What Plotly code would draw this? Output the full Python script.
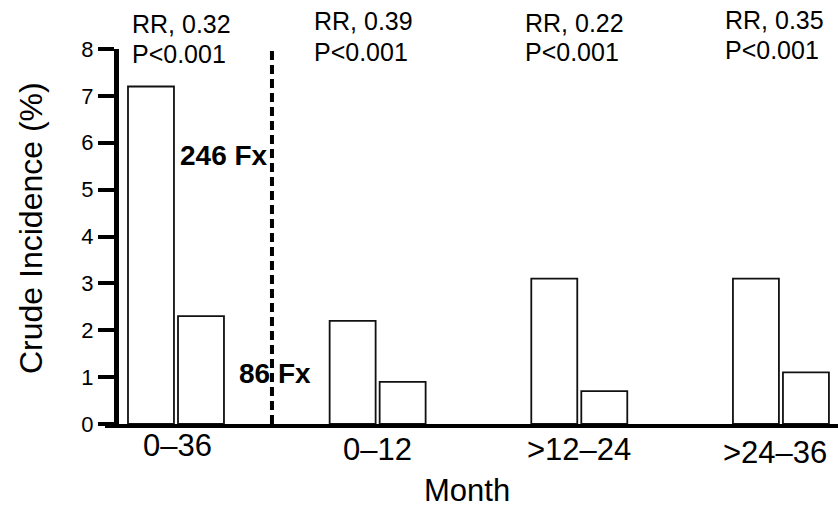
import plotly.graph_objects as go

# ---- data ----
categories = ["0–36", "0–12", ">12–24", ">24–36"]
series_a = [7.2, 2.2, 3.1, 3.1]      # first bar in each pair
series_b = [2.3, 0.9, 0.7, 1.1]      # second bar in each pair
rr_labels = ["RR, 0.32", "RR, 0.39", "RR, 0.22", "RR, 0.35"]
p_labels = ["P<0.001", "P<0.001", "P<0.001", "P<0.001"]
y_ticks = [0, 1, 2, 3, 4, 5, 6, 7, 8]
fx_labels = ["246 Fx", "86 Fx"]

FONT = "Liberation Sans, Arial, sans-serif"

# ---- layout geometry (pixels) ----
W, H = 838, 508
L, R, T, B = 105, 838, 49, 424


def py(p):
    return (B - p) / (B - T)


def px(p):
    return (p - L) / (R - L)


fig = go.Figure()
bw = 0.228
fig.add_trace(go.Bar(x=categories, y=series_a, width=bw, offset=-bw - 0.01,
                     marker=dict(color="white", line=dict(color="#111", width=1.8)),
                     showlegend=False))
fig.add_trace(go.Bar(x=categories, y=series_b, width=bw, offset=0.01,
                     marker=dict(color="white", line=dict(color="#111", width=1.8)),
                     showlegend=False))

annotations = []
# category labels under the axis
cat_xshift = [2, 0, 0, -6]
cat_ypix = [445, 449, 449, 453]
for c, xs, yp in zip(categories, cat_xshift, cat_ypix):
    annotations.append(dict(x=c, xref="x", y=py(yp), yref="paper", text=c, showarrow=False,
                            xshift=xs, xanchor="center", yanchor="middle",
                            font=dict(family=FONT, size=31, color="black")))
# RR / P labels
rr_xshift = [-46, -66, -56, -58]
rr_ypix = [24, 21, 23, 20]
p_ypix = [54, 52, 52, 50]
for c, rr, p, xs, y1, y2 in zip(categories, rr_labels, p_labels, rr_xshift, rr_ypix, p_ypix):
    annotations.append(dict(x=c, xref="x", y=py(y1), yref="paper", text=rr, showarrow=False,
                            xshift=xs, xanchor="left", yanchor="middle",
                            font=dict(family=FONT, size=25, color="black")))
    annotations.append(dict(x=c, xref="x", y=py(y2), yref="paper", text=p, showarrow=False,
                            xshift=xs, xanchor="left", yanchor="middle",
                            font=dict(family=FONT, size=25, color="black")))
# Fx labels
fx_pos = [(224, 155), (275, 373)]
for t, (xp, yp) in zip(fx_labels, fx_pos):
    annotations.append(dict(x=px(xp), xref="paper", y=py(yp), yref="paper", text="<b>%s</b>" % t,
                            showarrow=False, xanchor="center", yanchor="middle",
                            font=dict(family=FONT, size=28, color="black")))
# axis titles
annotations.append(dict(x=px(467), xref="paper", y=py(490), yref="paper", text="Month",
                        showarrow=False, xanchor="center", yanchor="middle",
                        font=dict(family=FONT, size=31, color="black")))
annotations.append(dict(x=px(31), xref="paper", y=py(228), yref="paper", text="Crude Incidence (%)",
                        showarrow=False, xanchor="center", yanchor="middle", textangle=-90,
                        font=dict(family=FONT, size=32, color="black")))

fig.update_layout(
    width=W, height=H,
    margin=dict(l=L, r=W - R, t=T, b=H - B, pad=0),
    paper_bgcolor="white", plot_bgcolor="white",
    barmode="overlay",
    annotations=annotations,
    shapes=[dict(type="line", xref="x", x0=0.476, x1=0.476, yref="y", y0=0, y1=8,
                 line=dict(color="black", width=4, dash="9px,5px"))],
    xaxis=dict(type="category", categoryarray=categories, range=[-0.352, 3.283],
               showline=True, linecolor="black", linewidth=4, showticklabels=False,
               ticks="", showgrid=False, zeroline=False, fixedrange=True),
    yaxis=dict(range=[0, 8], anchor="free", position=px(116), showline=True,
               linecolor="black", linewidth=5, ticks="outside", ticklen=16, tickwidth=4,
               tickcolor="black", tickvals=y_ticks, showgrid=False, zeroline=False,
               tickfont=dict(family=FONT, size=22, color="black"), fixedrange=True),
)

fig.write_html("out.html")
